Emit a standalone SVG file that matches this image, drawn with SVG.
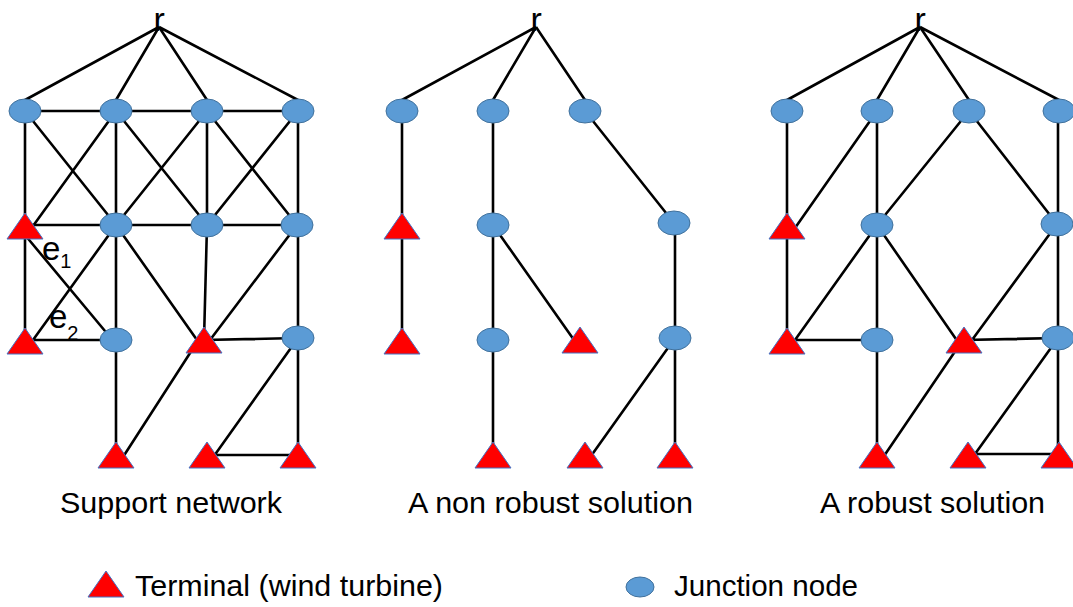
<svg xmlns="http://www.w3.org/2000/svg" width="1073" height="607" viewBox="0 0 1073 607">
<defs>
<style>
.e{stroke:#000;stroke-width:2.6;fill:none}
.j{fill:#5B9BD5;stroke:#41719C;stroke-width:1}
.t{fill:#FF0000;stroke:#4472C4;stroke-width:1}
.lbl{font-family:"Liberation Sans",Arial,sans-serif;fill:#000}
.root{font-family:"Liberation Sans",Arial,sans-serif;font-size:34px;fill:#000}
.cap{font-family:"Liberation Sans",Arial,sans-serif;font-size:30px;fill:#000}
</style>
<ellipse id="J" class="j" cx="0" cy="0" rx="16" ry="12"/>
<polygon id="T" class="t" points="0,-13 18,13 -18,13"/>
</defs>
<rect width="1073" height="607" fill="#fff"/>

<g id="connectors" class="e">
<!-- panel 1 -->
<path d="M159,27L25,100M159,27L116,100M159,27L207,100M159,27L298,100"/>
<path d="M25,111H298M25,111V340M25,111L116,225M116,111L33,226M116,111V455M116,111L207,225M207,111L116,225M207,111V225M207,111L297,225M298,111L207,225M298,111V455"/>
<path d="M25,225H297M25,235L110,337M116,225L33,340M25,340H116M116,225L197,340M207,225L204,340M297,225L210,340M204,340L298,338M192,350L123,457M298,338L214,456M207,455H298"/>
<!-- panel 2 -->
<path d="M536,27L402,100M536,27L493,100M536,27L585,100"/>
<path d="M402,111V340M493,111V455M493,225L574,340M585,111L674,223M675,223V455M675,338L591,456"/>
<!-- panel 3 -->
<path d="M920,27L787,100M920,27L877,100M920,27L969,100M920,27L1059,100"/>
<path d="M787,111V340M877,111L795,228M877,111V455M969,111L877,225M969,111L1057,224M1058,111V455"/>
<path d="M877,225L795,340M787,340H877M877,225L958,342M1057,224L972,340M964,340L1058,338M956,350L884,456M1058,338L975,454M968,454H1059"/>
</g>

<g id="panel1">
<text class="root" x="153.5" y="31">r</text>
<use id="p1-a1" href="#J" x="25" y="111"/><use id="p1-a2" href="#J" x="116" y="111"/><use id="p1-a3" href="#J" x="207" y="111"/><use id="p1-a4" href="#J" x="298" y="111"/>
<use id="p1-t1" href="#T" x="25" y="226"/><use id="p1-b2" href="#J" x="116" y="225"/><use id="p1-b3" href="#J" x="207" y="225"/><use id="p1-b4" href="#J" x="297" y="225"/>
<use id="p1-t2" href="#T" x="25" y="341"/><use id="p1-c2" href="#J" x="116" y="340"/><use id="p1-c3" href="#T" x="204" y="340"/><use id="p1-c4" href="#J" x="298" y="338"/>
<use id="p1-d2" href="#T" x="116" y="455"/><use id="p1-d3" href="#T" x="207" y="455"/><use id="p1-d4" href="#T" x="298" y="455"/>
<text class="lbl" x="42" y="260" font-size="33">e<tspan font-size="20" dy="8">1</tspan></text>
<text class="lbl" x="49" y="328" font-size="33">e<tspan font-size="20" dy="12">2</tspan></text>
<text class="cap" x="60" y="513" textLength="222" lengthAdjust="spacingAndGlyphs">Support network</text>
</g>

<g id="panel2">
<text class="root" x="530.5" y="31">r</text>
<use id="p2-a1" href="#J" x="402" y="111"/><use id="p2-a2" href="#J" x="493" y="111"/><use id="p2-a3" href="#J" x="585" y="111"/>
<use id="p2-t1" href="#T" x="402" y="226"/><use id="p2-b2" href="#J" x="493" y="225"/><use id="p2-b4" href="#J" x="674" y="223"/>
<use id="p2-t2" href="#T" x="402" y="341"/><use id="p2-c2" href="#J" x="493" y="340"/><use id="p2-c3" href="#T" x="580" y="340"/><use id="p2-c4" href="#J" x="675" y="338"/>
<use id="p2-d2" href="#T" x="493" y="455"/><use id="p2-d3" href="#T" x="585" y="455"/><use id="p2-d4" href="#T" x="675" y="455"/>
<text class="cap" x="408" y="513" textLength="285" lengthAdjust="spacingAndGlyphs">A non robust solution</text>
</g>

<g id="panel3">
<text class="root" x="914.5" y="31">r</text>
<use id="p3-a1" href="#J" x="787" y="111"/><use id="p3-a2" href="#J" x="877" y="111"/><use id="p3-a3" href="#J" x="969" y="111"/><use id="p3-a4" href="#J" x="1059" y="111"/>
<use id="p3-t1" href="#T" x="787" y="226"/><use id="p3-b2" href="#J" x="877" y="225"/><use id="p3-b4" href="#J" x="1057" y="224"/>
<use id="p3-t2" href="#T" x="787" y="341"/><use id="p3-c2" href="#J" x="877" y="340"/><use id="p3-c3" href="#T" x="964" y="340"/><use id="p3-c4" href="#J" x="1058" y="338"/>
<use id="p3-d2" href="#T" x="877" y="455"/><use id="p3-d3" href="#T" x="968" y="455"/><use id="p3-d4" href="#T" x="1059" y="455"/>
<text class="cap" x="820" y="513" textLength="225" lengthAdjust="spacingAndGlyphs">A robust solution</text>
</g>

<g id="legend">
<polygon class="t" points="106,571 124,597 88,597"/>
<text class="cap" x="135" y="596" textLength="308" lengthAdjust="spacingAndGlyphs">Terminal (wind turbine)</text>
<ellipse class="j" cx="640" cy="587" rx="14" ry="10"/>
<text class="cap" x="674" y="596" textLength="184" lengthAdjust="spacingAndGlyphs">Junction node</text>
</g>
</svg>
